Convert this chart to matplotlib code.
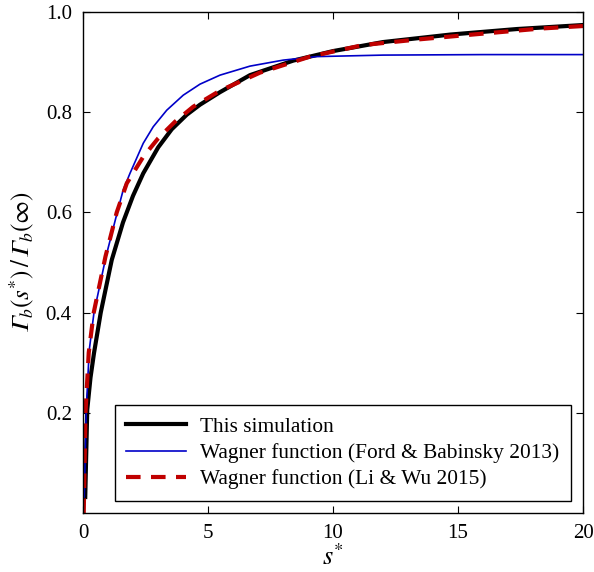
import matplotlib
matplotlib.use('Agg')
import matplotlib.pyplot as plt

plt.rcParams['font.family'] = 'serif'
plt.rcParams['font.serif'] = ['Liberation Serif']
plt.rcParams['mathtext.fontset'] = 'stix'

# values
sim_s = [0.09, 0.17, 0.30, 0.44, 0.71, 1.15, 1.6, 2.0, 2.41, 3.01, 3.55, 4.15,
         4.68, 5.48, 6.68, 8.41, 10.0, 12.0, 14.7, 17.35, 20.0]
sim_y = [0.032, 0.206, 0.27, 0.319, 0.40, 0.505, 0.58, 0.633, 0.678, 0.730, 0.766, 0.795,
         0.815, 0.840, 0.874, 0.903, 0.922, 0.940, 0.955, 0.966, 0.974]

ford_s = [0.05, 0.13, 0.25, 0.44, 0.92, 1.37, 1.61, 1.88, 2.41, 2.81, 3.35, 4.01,
          4.68, 5.48, 6.68, 8.01, 9.35, 12.0, 16.0, 20.0]
ford_y = [0.032, 0.206, 0.325, 0.40, 0.512, 0.60, 0.645, 0.678, 0.738, 0.771, 0.804, 0.834,
          0.856, 0.874, 0.892, 0.904, 0.911, 0.914, 0.915, 0.915]

liwu_s = [0.03, 0.10, 0.23, 0.43, 0.90, 1.35, 1.75, 2.41, 3.01, 3.68, 4.41, 5.48,
          7.08, 9.08, 11.2, 13.35, 15.35, 18.3, 20.0]
liwu_y = [0.0, 0.20, 0.32, 0.40, 0.512, 0.60, 0.658, 0.711, 0.748, 0.781, 0.811, 0.843,
          0.879, 0.911, 0.934, 0.945, 0.954, 0.967, 0.972]

fig = plt.figure(figsize=(5.94, 5.72), dpi=100)
ax = fig.add_axes([0.1397, 0.1031, 0.8418, 0.8759])

ax.plot(sim_s, sim_y, color='k', lw=3, label='This simulation')
ax.plot(ford_s, ford_y, color='#0000c8', lw=1.2, label='Wagner function (Ford & Babinsky 2013)')
ax.plot(liwu_s, liwu_y, color='#c00000', lw=3, dashes=(3.5, 2.5),
        label='Wagner function (Li & Wu 2015)')

ax.set_xlim(0, 20)
ax.set_ylim(0, 1)
ax.set_xticks([0, 5, 10, 15, 20])
ax.set_yticks([0.2, 0.4, 0.6, 0.8, 1.0])
ax.set_yticklabels(['0.2', '0.4', '0.6', '0.8', '1.0'])
ax.tick_params(direction='in', top=True, right=True, labelsize=15, length=5, pad=8)
for sp in ax.spines.values():
    sp.set_linewidth(1.0)

ax.set_xlabel(r'$s^{*}$', fontsize=19, labelpad=1)
ax.set_ylabel('$\U0001D6E4_b(s^{*})\\,/\\,\U0001D6E4_b(\\infty)$', fontsize=18, labelpad=6)

leg = ax.legend(loc='lower right', fontsize=15.4, fancybox=False, framealpha=1,
                edgecolor='k', handlelength=2.8, handletextpad=0.65,
                borderaxespad=0.55, labelspacing=0.3, borderpad=0.55)
leg.get_frame().set_linewidth(1.0)

fig.savefig('out.png', dpi=100)
